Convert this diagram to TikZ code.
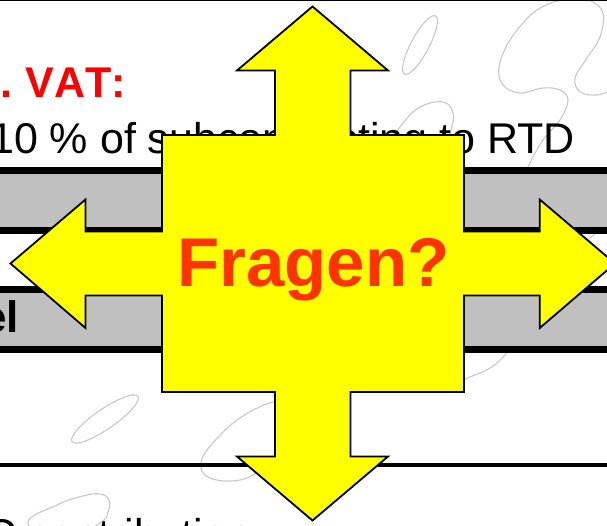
\documentclass[tikz,border=0pt]{standalone}
\usepackage{fontspec}
\setmainfont{Liberation Sans}
\definecolor{fragen}{HTML}{FF3300}
\definecolor{band}{HTML}{C0C0C0}
\definecolor{squig}{HTML}{C8C8C8}
\definecolor{arrowfill}{HTML}{FFFF00}
\definecolor{puretxt}{HTML}{FF0000}
\tikzset{
  squiggle/.style={draw=squig,line width=1.1pt},
  rulethick/.style={draw=black,line width=6.8pt},
  rulethin/.style={draw=black,line width=3.6pt},
  txt/.style={inner sep=0pt,outer sep=0pt,font=\fontsize{43}{43}\selectfont},
  bigarrow/.style={draw=black,fill=arrowfill,line width=1.8pt,line join=miter}
}
\begin{document}
\begin{tikzpicture}[x=1pt,y=-1pt]
\useasboundingbox (0,0) rectangle (607,525);
\clip (0,0) rectangle (607,525);
\fill[white] (0,0) rectangle (607,525);
% squiggles
\draw[squiggle,shift={(420,45)},rotate=62] (0,0) ellipse [x radius=33pt,y radius=9pt];
\draw[squiggle] plot[smooth,tension=0.7] coordinates {(392,140) (403,123) (420,107) (443,102) (453,113) (451,130) (445,145)};
\draw[squiggle] plot[smooth,tension=0.6] coordinates {(612,90) (597,95) (580,92) (575,78) (587,58) (600,37) (603,13) (591,1) (575,-1) (557,1) (533,13) (510,40) (499,67) (503,85) (520,93) (543,88) (560,90) (568,100) (560,120) (543,140) (528,167) (522,185)};
\draw[squiggle] plot[smooth,tension=0.7] coordinates {(582,246) (590,238) (597,232) (603,222)};
\draw[squiggle] plot[smooth,tension=0.7] coordinates {(455,383) (465,379) (490,368) (506,354) (512,346)};
\draw[squiggle,shift={(105,419)},rotate=34.5] (0,0) ellipse [x radius=40pt,y radius=10pt];
\draw[squiggle] plot[smooth cycle,tension=0.6] coordinates {(273,402) (237,420) (207,450) (201,468) (210,478) (230,481) (253,475) (295,445) (298,405)};
\draw[squiggle] plot[smooth cycle,tension=0.7] coordinates {(28,523) (57,505) (83,496) (100,494) (109,500) (108,512) (100,523) (60,545)};
% rules and bands
\fill[band] (0,170) rectangle (607,230);
\fill[band] (0,290) rectangle (607,349);
\coordinate (t1l) at (0,0.5); \coordinate (t1r) at (607,0.5);
\coordinate (b1l) at (0,170.4); \coordinate (b1r) at (607,170.4);
\coordinate (b2l) at (0,230.4); \coordinate (b2r) at (607,230.4);
\coordinate (b3l) at (0,289.6); \coordinate (b3r) at (607,289.6);
\coordinate (b4l) at (0,349.4); \coordinate (b4r) at (607,349.4);
\coordinate (b5l) at (0,464.8); \coordinate (b5r) at (607,464.8);
\draw[draw=black,line width=1.6pt] (t1l) -- (t1r);
\draw[rulethick] (b1l) -- (b1r);
\draw[rulethick] (b2l) -- (b2r);
\draw[rulethick] (b3l) -- (b3r);
\draw[rulethick] (b4l) -- (b4r);
\draw[rulethin] (b5l) -- (b5r);
% texts behind the arrow
\node[txt,anchor=base east,text=puretxt,font=\fontsize{43}{43}\selectfont\bfseries\addfontfeature{Kerning=Off}] (vat) at (126,97) {.\hspace{13.5pt}VAT:};
\node[txt,anchor=base east] (sub) at (575,153) {10 \% of subcontracting to RTD};
\node[txt,anchor=base east,font=\fontsize{44}{44}\selectfont\bfseries] (el) at (19,332) {el};
\node[txt,anchor=base west] (contrib) at (-14,549) {C contribution};
% four-way arrow
\draw[bigarrow] (312.5,6.5) -- (388,70.5) -- (350.5,70.5) -- (350.5,135) -- (464,135) -- (464,231.5)
  -- (539.7,231.5) -- (539.7,199.5) -- (615,263.5) -- (539.7,328) -- (539.7,295.5) -- (464,295.5) -- (464,392)
  -- (350.5,392) -- (350.5,456.5) -- (388,456.5) -- (312.5,520.5) -- (237,456.5) -- (275,456.5) -- (275,392)
  -- (162,392) -- (162,295.5) -- (85.5,295.5) -- (85.5,328) -- (10.5,263.5) -- (85.5,199.5) -- (85.5,231.5)
  -- (162,231.5) -- (162,135) -- (275,135) -- (275,70.5) -- (237,70.5) -- cycle;
\node[txt,anchor=base,text=fragen,font=\fontsize{69}{69}\selectfont\bfseries] (q) at (313.5,286) {Fragen?};
\end{tikzpicture}
\end{document}
